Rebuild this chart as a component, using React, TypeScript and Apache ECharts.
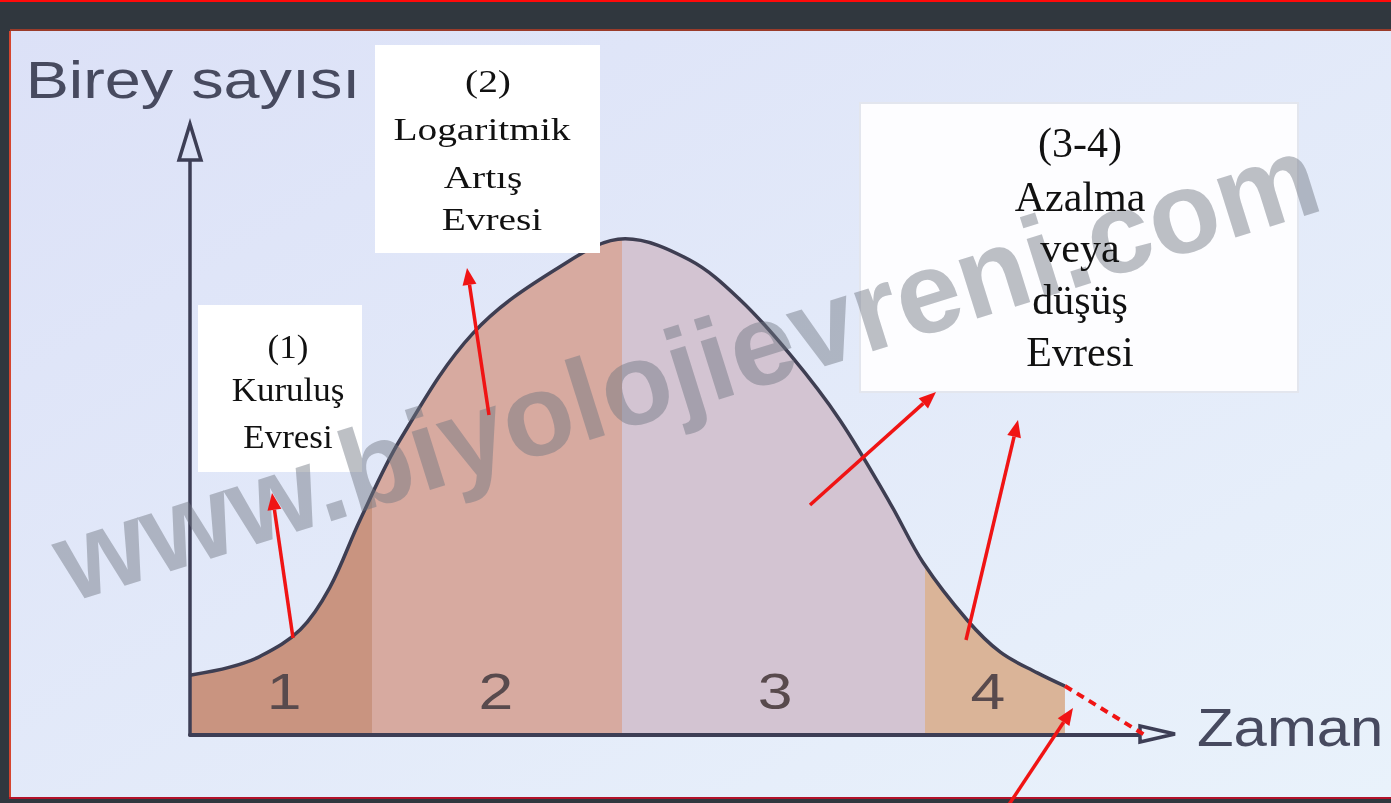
import React, { useEffect, useRef } from "react";
import * as echarts from "echarts";

// ---- data ----
const curveTime = [0, 4.2, 7.4, 11.6, 14.7, 17.9, 22.1, 29.8, 38.9, 45.8, 52.6, 57.9, 63.2, 68.4, 73.7, 77.2, 81.8, 85.3, 89.2, 92.1];
const curveCount = [10.4, 11.8, 13.7, 18.3, 25.6, 37.4, 51.3, 69.9, 81.4, 86.3, 82.6, 75.7, 66.1, 54.8, 40.3, 29.9, 20.0, 14.4, 10.8, 8.5];
const phaseBounds = [19.2, 45.5, 77.4];
const phaseColors = ["#c99480", "#d7aaa0", "#d3c4d2", "#dab498"];
const phaseNumbers = ["1", "2", "3", "4"];
const phaseNumberTime = [9.9, 32.2, 61.6, 84.0];
const phaseNumberCount = 7.5;
const yAxisName = "Birey sayısı";
const xAxisName = "Zaman";
const box1Lines = ["(1)", "Kuruluş", "Evresi"];
const box2Lines = ["(2)", "Logaritmik", "Artış", "Evresi"];
const box3Lines = ["(3-4)", "Azalma", "veya", "düşüş", "Evresi"];
const watermarkText = "www.biyolojievreni.com";

const AXIS_COLOR = "#3d3e55";
const RED = "#f01414";
const SERIF = '"Liberation Serif", "Times New Roman", serif';
const SANS = '"Liberation Sans", Arial, sans-serif';

function txt(text: string, x: number, y: number, size: number, opts: any = {}) {
  const align = opts.align || "center";
  return {
    type: "text",
    x,
    y,
    scaleX: opts.scaleX || 1,
    rotation: opts.rotation || 0,
    z: opts.z ?? 320,
    silent: true,
    style: {
      text,
      x: 0,
      y: 0,
      fontSize: size,
      fontFamily: opts.family || SERIF,
      fontWeight: opts.weight || "normal",
      fill: opts.fill || "#111111",
      align,
      textAlign: align,
      verticalAlign: "middle",
      textVerticalAlign: "middle",
    },
  };
}

function redArrow(x1: number, y1: number, x2: number, y2: number) {
  const ang = Math.atan2(y2 - y1, x2 - x1);
  const L = 17;
  const W = 7;
  const bx = x2 - L * Math.cos(ang);
  const by = y2 - L * Math.sin(ang);
  const px = -Math.sin(ang) * W;
  const py = Math.cos(ang) * W;
  return [
    { type: "line", z: 350, silent: true, shape: { x1, y1, x2: bx, y2: by }, style: { stroke: RED, lineWidth: 3.5 } },
    {
      type: "polygon",
      z: 350,
      silent: true,
      shape: { points: [[x2, y2], [bx + px, by + py], [bx - px, by - py]] },
      style: { fill: RED },
    },
  ];
}

function staticGraphics() {
  const els: any[] = [];
  // frame
  els.push({ type: "rect", z: -20, silent: true, shape: { x: 0, y: 0, width: 1391, height: 803 }, style: { fill: "#30373e" } });
  els.push({ type: "rect", z: -19, silent: true, shape: { x: 0, y: 0, width: 1391, height: 2 }, style: { fill: "#ff0a0a" } });
  els.push({
    type: "rect",
    z: -18,
    silent: true,
    shape: { x: 10, y: 31, width: 1381, height: 767 },
    style: {
      fill: new echarts.graphic.LinearGradient(0, 0, 1, 1, [
        { offset: 0, color: "#dce1f7" },
        { offset: 1, color: "#e9f2fb" },
      ]),
    },
  });
  els.push({ type: "rect", z: -17, silent: true, shape: { x: 9, y: 31, width: 2, height: 768 }, style: { fill: "#d5452f" } });
  els.push({ type: "rect", z: -17, silent: true, shape: { x: 10, y: 29, width: 1381, height: 2 }, style: { fill: "#9a3b2a" } });
  els.push({ type: "rect", z: -17, silent: true, shape: { x: 9, y: 797, width: 1382, height: 2 }, style: { fill: "#b3122a" } });

  // axis arrowheads (hollow)
  els.push({
    type: "polygon",
    z: 60,
    silent: true,
    shape: { points: [[190, 124], [179, 160], [201, 160]] },
    style: { fill: "#dde2f7", stroke: AXIS_COLOR, lineWidth: 3.5, lineJoin: "miter" },
  });
  els.push({
    type: "polygon",
    z: 60,
    silent: true,
    shape: { points: [[1175, 734], [1140, 726], [1140, 742]] },
    style: { fill: "#e6eefa", stroke: AXIS_COLOR, lineWidth: 3.5, lineJoin: "miter" },
  });

  // axis names
  els.push(txt(yAxisName, 193, 80, 51, { family: SANS, fill: "#474a5f", scaleX: 1.27 }));
  els.push(txt(xAxisName, 1197, 728, 53, { family: SANS, fill: "#474a5f", scaleX: 1.13, align: "left" }));

  // boxes
  els.push({ type: "rect", z: 100, silent: true, shape: { x: 198, y: 305, width: 164, height: 167 }, style: { fill: "#ffffff" } });
  els.push({ type: "rect", z: 100, silent: true, shape: { x: 375, y: 45, width: 225, height: 208 }, style: { fill: "#ffffff" } });
  els.push({
    type: "rect",
    z: 100,
    silent: true,
    shape: { x: 860, y: 103, width: 438, height: 289 },
    style: { fill: "#fdfdff", stroke: "#e3e6ee", lineWidth: 2 },
  });

  const b1y = [347, 390, 437];
  box1Lines.forEach((t, i) => els.push(txt(t, 288, b1y[i], 33, { scaleX: 1.06 })));
  const b2y = [82, 130, 178, 220];
  const b2x = [488, 482, 483, 492];
  box2Lines.forEach((t, i) => els.push(txt(t, b2x[i], b2y[i], 31, { scaleX: 1.27 })));
  const b3y = [143, 197, 248, 300, 352];
  box3Lines.forEach((t, i) => els.push(txt(t, 1080, b3y[i], 42)));

  // watermark
  els.push(
    txt(watermarkText, 686, 368, 116, {
      family: SANS,
      weight: "bold",
      fill: "rgba(112,117,128,0.46)",
      rotation: (17.4 * Math.PI) / 180,
      z: 300,
    })
  );

  // red annotation arrows
  els.push(...redArrow(293, 638, 272, 493));
  els.push(...redArrow(489, 415, 467, 268));
  els.push(...redArrow(810, 505, 936, 392));
  els.push(...redArrow(966, 640, 1018, 420));
  els.push(...redArrow(1008, 806, 1073, 708));
  // dashed continuation of the curve
  els.push({
    type: "line",
    z: 355,
    silent: true,
    shape: { x1: 1065, y1: 686, x2: 1148, y2: 737 },
    style: { stroke: RED, lineWidth: 4, lineDash: [8, 6] },
  });
  return els;
}

export default function App() {
  const ref = useRef<HTMLDivElement>(null);
  useEffect(() => {
    if (!ref.current) return;
    const chart = echarts.init(ref.current, null, { renderer: "svg" });
    const curve = curveTime.map((t, i) => [t, curveCount[i]]);
    const option: any = {
      animation: false,
      grid: { left: 190, top: 160, width: 950, height: 575, containLabel: false },
      xAxis: {
        type: "value",
        min: 0,
        max: 100,
        z: 5,
        axisLine: { show: true, onZero: false, lineStyle: { color: AXIS_COLOR, width: 4 } },
        axisTick: { show: false },
        axisLabel: { show: false },
        splitLine: { show: false },
      },
      yAxis: {
        type: "value",
        min: 0,
        max: 100,
        z: 5,
        axisLine: { show: true, onZero: false, lineStyle: { color: AXIS_COLOR, width: 3.5 } },
        axisTick: { show: false },
        axisLabel: { show: false },
        splitLine: { show: false },
      },
      visualMap: {
        type: "piecewise",
        show: false,
        dimension: 0,
        seriesIndex: 0,
        pieces: [
          { lt: phaseBounds[0], color: phaseColors[0] },
          { gte: phaseBounds[0], lt: phaseBounds[1], color: phaseColors[1] },
          { gte: phaseBounds[1], lt: phaseBounds[2], color: phaseColors[2] },
          { gte: phaseBounds[2], color: phaseColors[3] },
        ],
      },
      series: [
        {
          type: "line",
          data: curve,
          smooth: 0.35,
          symbol: "none",
          z: 2,
          lineStyle: { width: 0 },
          areaStyle: { opacity: 1 },
          silent: true,
        },
        {
          type: "line",
          data: curve,
          smooth: 0.35,
          symbol: "none",
          z: 3,
          lineStyle: { color: "#3e3e52", width: 3.5 },
          silent: true,
        },
      ],
    };
    chart.setOption(option);
    const numbers = phaseNumbers.map((t, i) => {
      const p = chart.convertToPixel({ gridIndex: 0 } as any, [phaseNumberTime[i], phaseNumberCount]) as number[];
      return txt(t, p[0], p[1], 50, { family: SANS, fill: "#584a4d", scaleX: 1.25, z: 50 });
    });
    chart.setOption({ graphic: [...staticGraphics(), ...numbers] });
    return () => chart.dispose();
  }, []);
  return <div ref={ref} style={{ position: "fixed", left: 0, top: 0, width: 1391, height: 803 }} />;
}
